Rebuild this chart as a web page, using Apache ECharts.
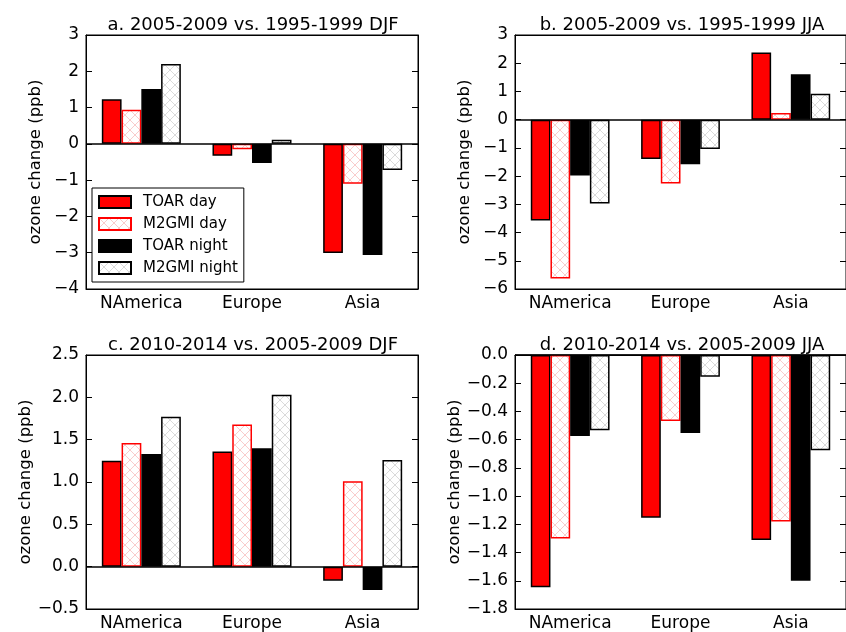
<!DOCTYPE html>
<html>
<head>
<meta charset="utf-8">
<script src="https://cdn.jsdelivr.net/npm/echarts@6/dist/echarts.min.js"></script>
<style>
  html, body { margin: 0; padding: 0; background: #fff; }
  #chart { width: 846px; height: 632px; }
</style>
</head>
<body>
<div id="chart"></div>
<script>
// categories and series
const categories = ['NAmerica', 'Europe', 'Asia'];
const seriesNames = ['TOAR day', 'M2GMI day', 'TOAR night', 'M2GMI night'];

// a. 2005-2009 vs. 1995-1999 DJF
const aToarDay = [1.23, -0.33, -3.01];
const aM2gmiDay = [0.94, -0.15, -1.10];
const aToarNight = [1.51, -0.53, -3.06];
const aM2gmiNight = [2.20, 0.11, -0.72];

// b. 2005-2009 vs. 1995-1999 JJA
const bToarDay = [-3.57, -1.39, 2.38];
const bM2gmiDay = [-5.63, -2.26, 0.24];
const bToarNight = [-1.98, -1.58, 1.61];
const bM2gmiNight = [-2.97, -1.04, 0.92];

// c. 2010-2014 vs. 2005-2009 DJF
const cToarDay = [1.25, 1.36, -0.165];
const cM2gmiDay = [1.46, 1.68, 1.01];
const cToarNight = [1.33, 1.40, -0.275];
const cM2gmiNight = [1.77, 2.03, 1.26];

// d. 2010-2014 vs. 2005-2009 JJA
const dToarDay = [-1.646, -1.153, -1.311];
const dM2gmiDay = [-1.30, -0.468, -1.18];
const dToarNight = [-0.574, -0.553, -1.60];
const dM2gmiNight = [-0.534, -0.154, -0.675];

const titles = [
    'a. 2005-2009 vs. 1995-1999 DJF',
    'b. 2005-2009 vs. 1995-1999 JJA',
    'c. 2010-2014 vs. 2005-2009 DJF',
    'd. 2010-2014 vs. 2005-2009 JJA'
];
const yMin = [-4, -6, -0.5, -1.8];
const yMax = [3, 3, 2.5, 0];
const yStep = [1, 1, 0.5, 0.2];
const yDecimals = [0, 0, 1, 1];

const panelData = [
    [aToarDay, aM2gmiDay, aToarNight, aM2gmiNight],
    [bToarDay, bM2gmiDay, bToarNight, bM2gmiNight],
    [cToarDay, cM2gmiDay, cToarNight, cM2gmiNight],
    [dToarDay, dM2gmiDay, dToarNight, dM2gmiNight]
];

// cross hatch tile
function hatch(lineColor) {
    const c = document.createElement('canvas');
    c.width = 10;
    c.height = 10;
    const g = c.getContext('2d');
    g.fillStyle = '#ffffff';
    g.fillRect(0, 0, 10, 10);
    g.strokeStyle = lineColor;
    g.lineWidth = 1;
    g.beginPath();
    g.moveTo(-1, -1); g.lineTo(11, 11);
    g.moveTo(11, -1); g.lineTo(-1, 11);
    g.stroke();
    return c;
}

const styles = [
    { color: '#ff0000', borderColor: '#000000', borderWidth: 1.5 },
    { color: { image: hatch('#f9cccc'), repeat: 'repeat' }, borderColor: '#ff0000', borderWidth: 1.5 },
    { color: '#000000', borderColor: '#000000', borderWidth: 1.5 },
    { color: { image: hatch('#dadada'), repeat: 'repeat' }, borderColor: '#000000', borderWidth: 1.5 }
];

const fontFamily = 'DejaVu Sans';
const grids = [
    { left: 86, top: 35, width: 332, height: 254 },
    { left: 515, top: 35, width: 332, height: 254 },
    { left: 86, top: 355, width: 332, height: 254 },
    { left: 515, top: 355, width: 332, height: 254 }
];

const xAxes = [];
const yAxes = [];
const series = [];
const titleList = [];

grids.forEach((gr, i) => {
    gr.show = true;
    gr.borderColor = '#000';
    gr.borderWidth = 1;
    gr.backgroundColor = '#fff';

    titleList.push({
        text: titles[i],
        left: gr.left + gr.width / 2 - 4,
        top: gr.top - 24,
        textAlign: 'center',
        textStyle: { fontFamily: fontFamily, fontSize: 18, fontWeight: 'normal', color: '#000' }
    });

    // bottom axis
    xAxes.push({
        type: 'category', gridIndex: i, data: categories, position: 'bottom',
        axisLine: { onZero: false, lineStyle: { color: '#000' } },
        axisTick: { inside: true, alignWithLabel: true, length: 6, lineStyle: { color: '#000' } },
        axisLabel: { color: '#000', fontFamily: fontFamily, fontSize: 17, margin: 6 }
    });
    // top axis, ticks only
    xAxes.push({
        type: 'category', gridIndex: i, data: categories, position: 'top',
        axisLine: { onZero: false, lineStyle: { color: '#000' } },
        axisTick: { inside: true, alignWithLabel: true, length: 6, lineStyle: { color: '#000' } },
        axisLabel: { show: false }
    });

    const dec = yDecimals[i];
    yAxes.push({
        type: 'value', gridIndex: i, position: 'left',
        min: yMin[i], max: yMax[i], interval: yStep[i],
        name: 'ozone change (ppb)', nameLocation: 'middle', nameGap: 42,
        nameTextStyle: { color: '#000', fontFamily: fontFamily, fontSize: 16.5 },
        axisLine: { show: true, lineStyle: { color: '#000' } },
        axisTick: { show: true, inside: true, length: 6, lineStyle: { color: '#000' } },
        splitLine: { show: false },
        axisLabel: {
            color: '#000', fontFamily: fontFamily, fontSize: 17, margin: 7,
            formatter: v => {
                const s = (Math.abs(v) < 1e-9 ? 0 : v).toFixed(dec);
                return s.replace('-', '\u2212');
            }
        }
    });
    yAxes.push({
        type: 'value', gridIndex: i, position: 'right',
        min: yMin[i], max: yMax[i], interval: yStep[i],
        axisLine: { show: true, lineStyle: { color: '#000' } },
        axisTick: { show: true, inside: true, length: 6, lineStyle: { color: '#000' } },
        splitLine: { show: false },
        axisLabel: { show: false }
    });

    panelData[i].forEach((vals, k) => {
        const s = {
            name: seriesNames[k],
            type: 'bar',
            xAxisIndex: i * 2,
            yAxisIndex: i * 2,
            data: vals,
            barGap: '0%',
            barCategoryGap: '28.6%',
            itemStyle: styles[k],
            emphasis: { disabled: true },
            animation: false
        };
        if (k === 0) {
            s.markLine = {
                silent: true,
                symbol: 'none',
                label: { show: false },
                lineStyle: { color: '#000', type: 'solid', width: 1.5 },
                data: [{ yAxis: 0 }]
            };
        }
        series.push(s);
    });
});

const chart = echarts.init(document.getElementById('chart'), null, { renderer: 'canvas' });
chart.setOption({
    backgroundColor: '#fff',
    animation: false,
    title: titleList,
    legend: {
        data: seriesNames,
        orient: 'vertical',
        left: 92,
        top: 188,
        padding: [6, 6, 6, 6],
        itemGap: 6,
        itemWidth: 32,
        itemHeight: 12,
        icon: 'rect',
        borderColor: '#000',
        borderWidth: 1,
        backgroundColor: '#fff',
        selectedMode: false,
        textStyle: { color: '#000', fontFamily: fontFamily, fontSize: 15, padding: [0, 0, 0, 7], lineHeight: 16 }
    },
    grid: grids,
    xAxis: xAxes,
    yAxis: yAxes,
    series: series
});
</script>
</body>
</html>
